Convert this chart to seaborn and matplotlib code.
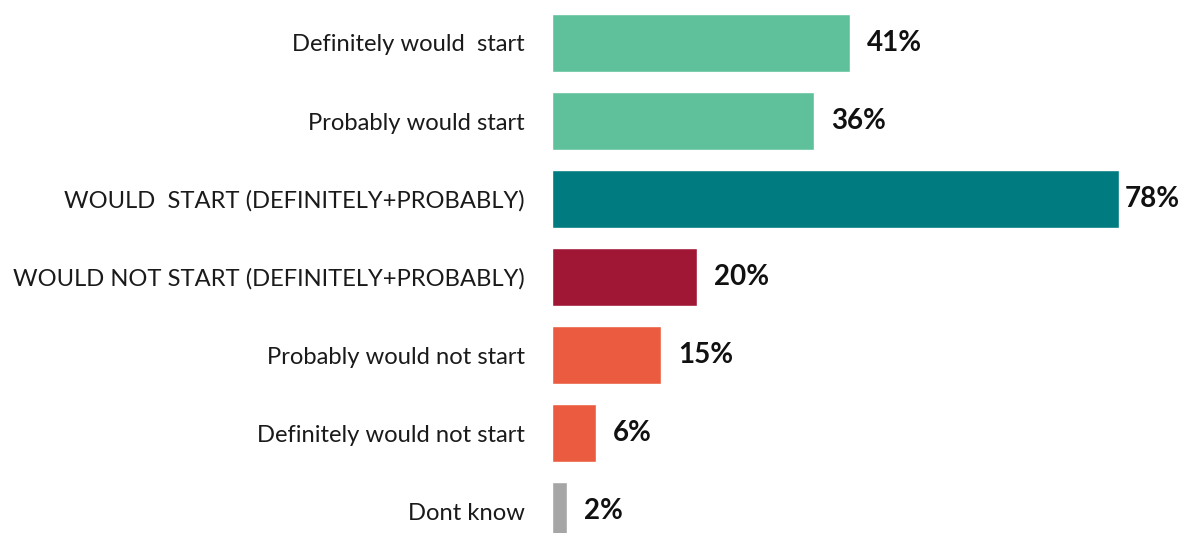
import matplotlib
matplotlib.use("Agg")
import matplotlib.pyplot as plt
import seaborn as sns
import pandas as pd

categories = [
    "Definitely would  start",
    "Probably would start",
    "WOULD  START (DEFINITELY+PROBABLY)",
    "WOULD NOT START (DEFINITELY+PROBABLY)",
    "Probably would not start",
    "Definitely would not start",
    "Dont know",
]
values = [41, 36, 78, 20, 15, 6, 2]
colors = ["#5fc19b", "#5fc19b", "#007b80", "#a01736", "#ea5b3f", "#ea5b3f", "#a6a6a6"]
label_pad_px = [17, 17, 6, 17, 17, 17, 17]

sns.set_theme(style="white")
plt.rcParams["font.family"] = ["Lato", "DejaVu Sans"]

df = pd.DataFrame({"category": categories, "value": values})

W, H, DPI = 1182, 533, 100
fig = plt.figure(figsize=(W / DPI, H / DPI), dpi=DPI)
ax = fig.add_axes([552 / W, 0, 581.6 / W, 1])

sns.barplot(data=df, y="category", x="value", hue="category",
            palette=colors, orient="h", width=0.744, dodge=False,
            legend=False, ax=ax, saturation=1)

ax.set_xlim(0, 80)
ax.set_ylim(6.28, -0.551)
ax.set_xlabel("")
ax.set_ylabel("")
ax.set_xticks([])
for s in ax.spines.values():
    s.set_visible(False)
ax.tick_params(axis="y", length=0, pad=19.5, labelsize=17.1, labelcolor="#1a1a1a")

for i, (v, p) in enumerate(zip(values, label_pad_px)):
    ax.annotate(f"{v}%", xy=(v, i), xytext=(p * 72 / DPI, 0),
                textcoords="offset points", va="center", ha="left",
                fontsize=20, fontweight="bold", color="#111111")

fig.savefig("out.png", dpi=DPI)
